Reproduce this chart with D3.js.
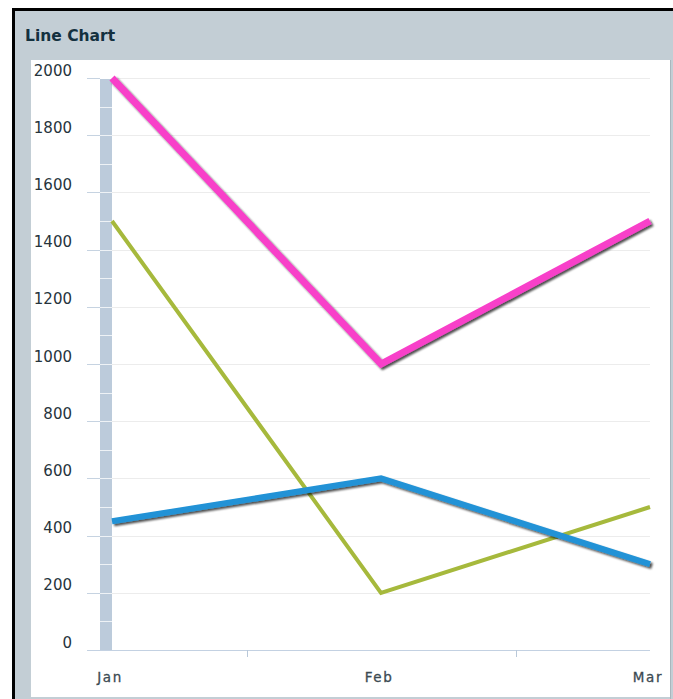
<!DOCTYPE html>
<html>
<head>
<meta charset="utf-8">
<script src="https://cdn.jsdelivr.net/npm/d3@7"></script>
<style>
  body { margin: 0; background: #fff; }
  svg { display: block; }
</style>
</head>
<body>
<div id="chart"></div>
<script>
var months = ["Jan", "Feb", "Mar"];
var pinkValues = [2000, 1000, 1500];
var greenValues = [1500, 200, 500];
var blueValues = [450, 600, 300];
var yTickValues = [0, 200, 400, 600, 800, 1000, 1200, 1400, 1600, 1800, 2000];
var yMinorValues = [100, 300, 500, 700, 900, 1100, 1300, 1500, 1700, 1900];

var width = 673,
    height = 699;

var x = d3.scalePoint().domain(months).range([112, 650]);
var y = d3.scaleLinear().domain([0, 2000]).range([650, 78]);

var svg = d3.select("#chart").append("svg")
    .attr("width", width)
    .attr("height", height);

// drop shadow for the thick lines
var filter = svg.append("defs").append("filter")
    .attr("id", "shadow")
    .attr("x", "-10%").attr("y", "-10%")
    .attr("width", "120%").attr("height", "120%");
filter.append("feGaussianBlur").attr("in", "SourceAlpha").attr("stdDeviation", 1.3);
filter.append("feOffset").attr("dx", 2).attr("dy", 2).attr("result", "off");
filter.append("feComponentTransfer").append("feFuncA").attr("type", "linear").attr("slope", 0.7);
var merge = filter.append("feMerge");
merge.append("feMergeNode");
merge.append("feMergeNode").attr("in", "SourceGraphic");

// panel frame
svg.append("rect").attr("x", 12).attr("y", 8).attr("width", width - 12).attr("height", height - 8)
    .attr("fill", "#000");
svg.append("rect").attr("x", 15).attr("y", 11).attr("width", width - 15).attr("height", height - 11)
    .attr("fill", "#c3ced5");
svg.append("rect").attr("x", 31).attr("y", 60).attr("width", 639).attr("height", 637)
    .attr("fill", "#fff");
svg.append("line").attr("x1", 670.5).attr("x2", 670.5).attr("y1", 60).attr("y2", 699)
    .attr("stroke", "#aab6bd");

svg.append("text")
    .attr("x", 25).attr("y", 41)
    .attr("font-family", "DejaVu Sans, Verdana, sans-serif")
    .attr("font-size", 15.5)
    .attr("font-weight", "bold")
    .attr("fill", "#14313f")
    .text("Line Chart");

// horizontal grid
var grid = svg.append("g");
grid.selectAll("line.grid")
    .data(yTickValues)
    .enter().append("line")
    .attr("class", "grid")
    .attr("x1", 112).attr("x2", 650)
    .attr("y1", function (d) { return Math.round(y(d)) + 0.5; })
    .attr("y2", function (d) { return Math.round(y(d)) + 0.5; })
    .attr("stroke", "#ececec");

grid.selectAll("line.major")
    .data(yTickValues)
    .enter().append("line")
    .attr("class", "major")
    .attr("x1", 87).attr("x2", 100)
    .attr("y1", function (d) { return Math.round(y(d)) + 0.5; })
    .attr("y2", function (d) { return Math.round(y(d)) + 0.5; })
    .attr("stroke", "#c6d3e1");

// vertical axis band
svg.append("rect")
    .attr("x", 100).attr("y", y(2000) + 1)
    .attr("width", 12).attr("height", y(0) - y(2000) - 1)
    .attr("fill", "#bccbdb");

svg.selectAll("line.minor")
    .data(yMinorValues.concat(yTickValues.slice(1, -1)))
    .enter().append("line")
    .attr("class", "minor")
    .attr("x1", 100).attr("x2", 112)
    .attr("y1", function (d) { return Math.round(y(d)) + 0.5; })
    .attr("y2", function (d) { return Math.round(y(d)) + 0.5; })
    .attr("stroke", "#eef2f6");

svg.selectAll("text.ylab")
    .data(yTickValues)
    .enter().append("text")
    .attr("class", "ylab")
    .attr("x", 72)
    .attr("y", function (d) { return y(d) - 2.5; })
    .attr("text-anchor", "end")
    .attr("font-family", "DejaVu Sans, Verdana, sans-serif")
    .attr("font-size", 15)
    .attr("fill", "#26343c")
    .text(function (d) { return d; });

// x axis
svg.append("line")
    .attr("x1", 88).attr("x2", 650)
    .attr("y1", y(0) + 0.5).attr("y2", y(0) + 0.5)
    .attr("stroke", "#c3d1e2");

var mids = [];
for (var i = 0; i < months.length - 1; i++) {
    mids.push((x(months[i]) + x(months[i + 1])) / 2);
}
svg.selectAll("line.xtick")
    .data(mids)
    .enter().append("line")
    .attr("class", "xtick")
    .attr("x1", function (d) { return Math.round(d) + 0.5; })
    .attr("x2", function (d) { return Math.round(d) + 0.5; })
    .attr("y1", y(0)).attr("y2", y(0) + 7)
    .attr("stroke", "#b9c8d9");

svg.selectAll("text.xlab")
    .data(months)
    .enter().append("text")
    .attr("class", "xlab")
    .attr("x", function (d) { return x(d) - 2; })
    .attr("y", 682)
    .attr("text-anchor", "middle")
    .attr("font-family", "DejaVu Sans, Verdana, sans-serif")
    .attr("font-size", 13.5)
    .attr("letter-spacing", 1.6)
    .attr("stroke", "#3b4a52")
    .attr("stroke-width", 0.3)
    .attr("fill", "#3b4a52")
    .text(function (d) { return d; });

// series
var line = d3.line()
    .x(function (d, i) { return x(months[i]); })
    .y(function (d) { return y(d); });

var series = [
    { values: greenValues, color: "#a6b93c", width: 4, shadow: false },
    { values: blueValues, color: "#2092d6", width: 6, shadow: true },
    { values: pinkValues, color: "#f83fc9", width: 7, shadow: true }
];

svg.selectAll("path.series")
    .data(series)
    .enter().append("path")
    .attr("class", "series")
    .attr("d", function (d) { return line(d.values); })
    .attr("fill", "none")
    .attr("stroke", function (d) { return d.color; })
    .attr("stroke-width", function (d) { return d.width; })
    .attr("stroke-linejoin", "miter")
    .attr("filter", function (d) { return d.shadow ? "url(#shadow)" : null; });
</script>
</body>
</html>
